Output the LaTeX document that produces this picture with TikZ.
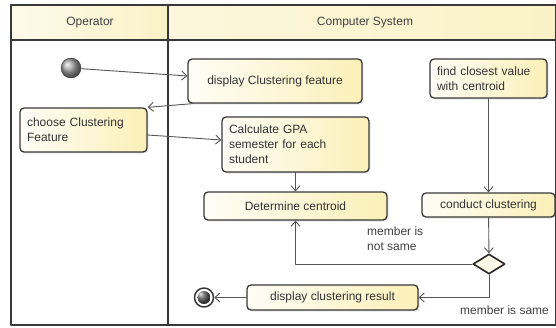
\documentclass[tikz,border=0pt]{standalone}
\usepackage{fontspec}
\setmainfont{Liberation Sans}
\usetikzlibrary{shapes.geometric,arrows.meta,shadows}
\definecolor{boxfill}{HTML}{FAF0B8}
\definecolor{lanefill}{HTML}{FAF2C6}
\definecolor{edge}{HTML}{383838}
\begin{document}
\begin{tikzpicture}[x=1pt,y=-1pt,font=\fontsize{12}{15}\selectfont, line join=round, line cap=round, >={Straight Barb[length=5pt,width=9pt]},
	act/.style={draw=edge, line width=1.3pt, rounded corners=4pt, left color=boxfill!12, right color=boxfill, text=black!80, inner xsep=7pt, inner ysep=2pt, drop shadow={shadow xshift=1.5pt, shadow yshift=-1.5pt, opacity=0.2}},
	flow/.style={->, draw=edge!85, line width=0.9pt},
	frame/.style={draw=edge, line width=1.4pt},
	lanetitle/.style={text=black!75},
	note/.style={text=black!75, inner sep=0pt, align=left}] %activity diagram
	\useasboundingbox (0,0) rectangle (556,327);
	% swimlanes
	\shade[left color=lanefill!35, right color=lanefill] (11,5) rectangle (168,40);
	\shade[left color=lanefill!60, right color=lanefill] (168,5) rectangle (556,40);
	\draw[frame] (11,5) rectangle (556,325);
	\draw[frame] (11,40) -- (556,40);
	\draw[frame, line width=2.2pt] (168,5) -- (168,325);
	\node[lanetitle] (opr) at (90,23) {Operator};
	\node[lanetitle] (sys) at (365,23) {Computer System};
	% actions
	\node[circle, minimum size=20pt, inner sep=0pt, draw=edge, ball color=gray!70] (start) at (71,68) {};
	\node[act, minimum width=174pt, minimum height=44pt] (disp) at (275,81) {display Clustering feature};
	\node[act, text width=113pt, minimum height=44pt, align=left] (choose) at (83.5,130) {choose Clustering\\Feature};
	\node[act, text width=133pt, minimum height=55pt, align=left] (calc) at (295.5,144.5) {Calculate GPA\\semester for each\\student};
	\node[act, text width=103pt, minimum height=39pt, align=left] (find) at (488.5,78.5) {find closest value\\with centroid};
	\node[act, minimum width=183pt, minimum height=28pt] (determ) at (295.5,206) {Determine centroid};
	\node[act, minimum width=133pt, minimum height=24pt] (conduct) at (488.5,205) {conduct clustering};
	\node[diamond, aspect=1.6, minimum width=32pt, minimum height=20pt, inner sep=0pt, draw=black!85, line width=1.6pt, fill=boxfill!30] (decide) at (489,264) {};
	\node[act, minimum width=171pt, minimum height=25pt] (result) at (332.5,297.5) {display clustering result};
	\node[circle, minimum size=19pt, inner sep=0pt, draw=edge, line width=1.5pt, fill=white, path picture={\shade[ball color=gray!60!black] (path picture bounding box.center) circle (6.5pt);}] (stop) at (204,297.5) {};
	% flows
	\draw[flow] (start) -- ([yshift=5pt]disp.west);
	\draw[flow] ([xshift=5pt]disp.south west) -- (choose.north east);
	\draw[flow] ([yshift=-5pt]choose.east) -- ([yshift=4.5pt]calc.west);
	\draw[flow] (calc) -- (determ);
	\draw[flow] (find) -- (conduct);
	\draw[flow] (conduct) -- (decide);
	\draw[flow] (decide.west) -| (determ.south);
	\draw[flow] (decide.south) |- (result.east);
	\draw[flow] (result) -- (stop);
	\node[note, anchor=north west] (notsame) at (367,227) {member is\\not same};
	\node[note, anchor=base west] (same) at (460,314) {member is same};
\end{tikzpicture}
\end{document}
